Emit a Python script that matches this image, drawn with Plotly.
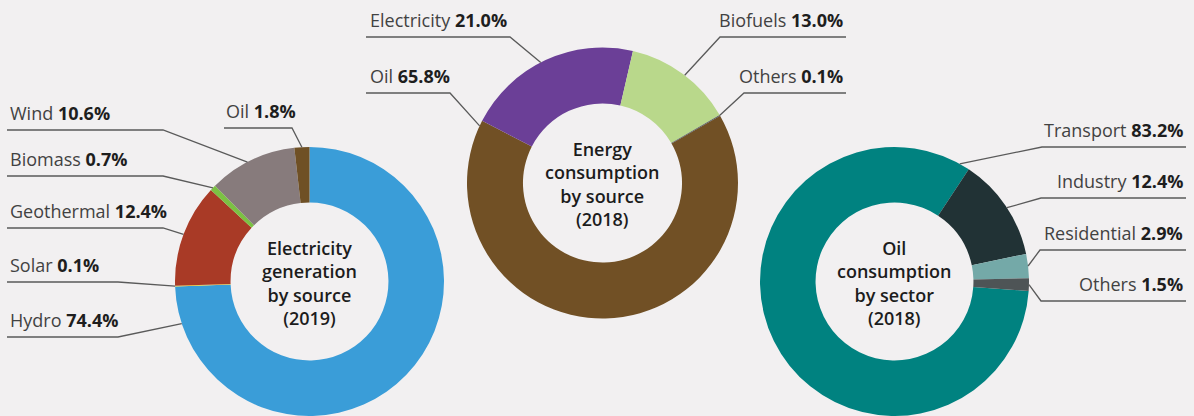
import math
import plotly.graph_objects as go

W, H = 1194, 416

# ---------------- data ----------------
elec_labels = ["Hydro", "Solar", "Geothermal", "Biomass", "Wind", "Oil"]
elec_values = [74.4, 0.1, 12.4, 0.7, 10.6, 1.8]

energy_labels = ["Oil", "Electricity", "Biofuels", "Others"]
energy_values = [65.8, 21.0, 13.0, 0.1]

oil_labels = ["Transport", "Industry", "Residential", "Others"]
oil_values = [83.2, 12.4, 2.9, 1.5]

titles = [
    "Electricity<br>generation<br>by source<br>(2019)",
    "Energy<br>consumption<br>by source<br>(2018)",
    "Oil<br>consumption<br>by sector<br>(2018)",
]

# ---------------- styles ----------------
elec_colors = ["#3a9dd8", "#f4cf1c", "#a93a26", "#7bc143", "#877b7c", "#6f5025"]
energy_colors = ["#715025", "#6b3f97", "#b9d88b", "#4f5356"]
oil_colors = ["#008280", "#213235", "#74a9a8", "#4e5456"]

BG = "#f2f0f1"
LINE = "#5a5a5a"
FONT = "Open Sans"

# chart geometry (pixel centre, radius, rotation)
charts = [
    dict(labels=elec_labels, values=elec_values, colors=elec_colors,
         cx=309.5, cy=282.5, r=135.5, rot=0),
    dict(labels=energy_labels, values=energy_values, colors=energy_colors,
         cx=602.5, cy=183.0, r=135.5, rot=60.2),
    dict(labels=oil_labels, values=oil_values, colors=oil_colors,
         cx=894.5, cy=282.5, r=135.5, rot=94),
]

# label layout per slice: (align, text_x, line_y, line_start_x, elbow_x, fraction in slice)
label_layout = [
    [("left", 8, 337, 7, 118, 0.94),
     ("left", 8, 282, 7, 118, 0.5),
     ("left", 8, 228, 7, 163, 0.5),
     ("left", 8, 176, 7, 163, 0.5),
     ("left", 8, 130, 7, 163, 0.45),
     ("left", 224, 128, 224, 292, 0.5)],
    [("left", 368, 93, 366, 450, 0.99),
     ("left", 368, 37, 366, 510, 0.47),
     ("right", 845, 37, 846, 720, 0.52),
     ("right", 845, 93, 846, 744, 0.5)],
    [("right", 1185, 147, 1186, 1042, 0.985),
     ("right", 1185, 198, 1186, 1041, 0.52),
     ("right", 1185, 250, 1186, 1040, 0.5),
     ("right", 1185, 301, 1186, 1041, 0.5)],
]


def px(x):
    return x / W


def py(y):
    return 1 - y / H


fig = go.Figure()
shapes = []
annotations = []

for ci, ch in enumerate(charts):
    cx, cy, r = ch["cx"], ch["cy"], ch["r"]
    x0, x1 = (cx - r) / W, (cx + r) / W
    y0, y1 = 1 - (cy + r) / H, 1 - (cy - r) / H
    y0, y1 = max(0.0, y0), min(1.0, y1)
    x0, x1 = max(0.0, x0), min(1.0, x1)
    # effective geometry as plotly will draw it
    wpx, hpx = (x1 - x0) * W, (y1 - y0) * H
    r_eff = min(wpx, hpx) / 2
    cx_eff = (x0 + x1) / 2 * W
    cy_eff = (1 - (y0 + y1) / 2) * H

    fig.add_trace(go.Pie(
        labels=ch["labels"], values=ch["values"],
        marker=dict(colors=ch["colors"], line=dict(width=0)),
        hole=0.587, sort=False, direction="clockwise", rotation=ch["rot"],
        textinfo="none", hoverinfo="label+percent", showlegend=False,
        domain=dict(x=[x0, x1], y=[y0, y1]),
    ))

    annotations.append(dict(
        x=px(cx_eff), y=py(cy_eff + 1), xref="paper", yref="paper",
        text=titles[ci], showarrow=False, xanchor="center", yanchor="middle",
        align="center", font=dict(family=FONT, size=18, color="#1c1c1c", weight=600),
    ))

    total = sum(ch["values"])
    cum = 0.0
    for si, (lab, val) in enumerate(zip(ch["labels"], ch["values"])):
        align, tx, ly, lx0, ex, frac = label_layout[ci][si]
        ang = math.radians(ch["rot"] + 360 * (cum + frac * val) / total)
        cum += val
        ax = cx_eff + r_eff * math.sin(ang)
        ay = cy_eff - r_eff * math.cos(ang)
        shapes.append(dict(
            type="path", xref="paper", yref="paper",
            path=f"M {px(lx0)},{py(ly)} L {px(ex)},{py(ly)} L {px(ax)},{py(ay)}",
            line=dict(color=LINE, width=1.3),
        ))
        annotations.append(dict(
            x=px(tx), y=py(ly - 3), xref="paper", yref="paper",
            text=f"<span style='color:#424242'>{lab}</span> <b>{val:.1f}%</b>",
            showarrow=False, xanchor=align, yanchor="bottom", align=align,
            font=dict(family=FONT, size=18, color="#1e1e1e"),
        ))

fig.update_layout(
    width=W, height=H,
    margin=dict(l=0, r=0, t=0, b=0),
    paper_bgcolor=BG, plot_bgcolor=BG,
    shapes=shapes, annotations=annotations,
)

fig.write_html(
    "out.html",
    config={"displayModeBar": False},
    post_script=(
        "document.body.style.margin='0';"
        "document.body.style.padding='0';"
        f"document.body.style.background='{BG}';"
        "document.body.style.overflow='hidden';"
    ),
)
